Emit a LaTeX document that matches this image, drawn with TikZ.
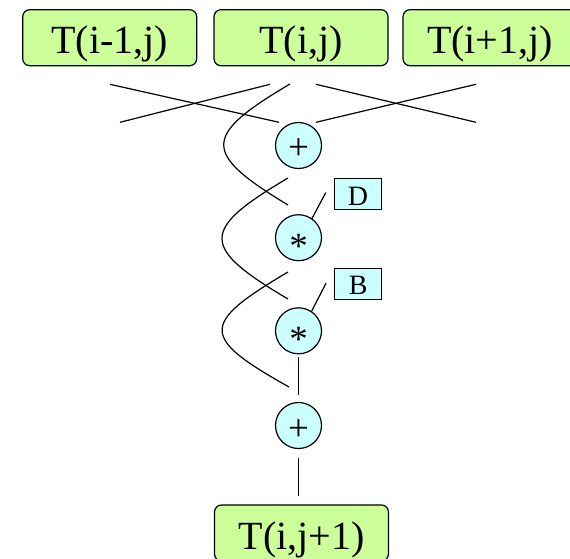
\documentclass[tikz,border=0pt]{standalone}
\usepackage{fontspec}
\setmainfont{Liberation Serif}
\definecolor{boxgreen}{HTML}{CCFF99}
\definecolor{opcyan}{HTML}{CCFFFF}
\begin{document}
\begin{tikzpicture}[x=1pt,y=-1pt,line width=1.2pt,
  tbox/.style={draw,rounded corners=7pt,fill=boxgreen,minimum width=174pt,minimum height=56pt,inner sep=0pt,
    text height=32pt,text depth=0pt,font=\fontsize{40}{44}\selectfont},
  op/.style={draw,circle,fill=opcyan,minimum size=46pt,inner sep=0pt,text depth=0pt,font=\fontsize{37}{40}\selectfont},
  plusop/.style={op,text height=29pt},
  mulop/.style={op,text height=42pt},
  coef/.style={draw,fill=opcyan,minimum width=47pt,minimum height=31pt,inner sep=0pt,
    text height=22.4pt,text depth=0pt,font=\fontsize{28}{30}\selectfont},
  wire/.style={draw,line width=1.2pt}]
\useasboundingbox (0,0) rectangle (570,559);
% data boxes
\node[tbox] (tl) at (109.7,37.7) {T(i-1,j)};
\node[tbox] (tc) at (301,37.7) {T(i,j)};
\node[tbox] (tr) at (490,37.7) {T(i+1,j)};
\node[tbox] (out) at (301.5,533) {T(i,j+1)};
% operators
\node[plusop] (p1) at (298.5,145.5) {+};
\node[mulop] (m1) at (298.5,237.7) {*};
\node[mulop] (m2) at (298.5,330.8) {*};
\node[plusop] (p2) at (298.5,425.5) {+};
% coefficients
\node[coef] (cd) at (358,193.8) {D};
\node[coef] (cb) at (358.3,283.7) {B};
% connector end points
\coordinate (a1) at (110,84.3);  \coordinate (a2) at (279,122.3);
\coordinate (b1) at (120,122.3); \coordinate (b2) at (270,84.3);
\coordinate (c1) at (316,84.3);  \coordinate (c2) at (476,122.3);
\coordinate (d1) at (316,122.3); \coordinate (d2) at (476,84.3);
\coordinate (s1a) at (290,84);   \coordinate (s1b) at (288,205);
\coordinate (s2a) at (288,178);  \coordinate (s2b) at (288,299);
\coordinate (s3a) at (288,272);  \coordinate (s3b) at (289,387);
\coordinate (dl1) at (325.7,192.7); \coordinate (dl2) at (311.7,219);
\coordinate (bl1) at (326,283.3);   \coordinate (bl2) at (311.7,311);
\coordinate (v1) at (298.5,356.5);  \coordinate (v2) at (298.5,395);
\coordinate (w1) at (298.5,457.7);  \coordinate (w2) at (298.5,496);
% crossing lines
\draw[wire] (a1) -- (a2);
\draw[wire] (b1) -- (b2);
\draw[wire] (c1) -- (c2);
\draw[wire] (d1) -- (d2);
% S curves
\draw[wire] (s1a) .. controls (202,136) and (202,153) .. (s1b);
\draw[wire] (s2a) .. controls (200,230) and (200,247) .. (s2b);
\draw[wire] (s3a) .. controls (200,324) and (200,337) .. (s3b);
% coefficient links
\draw[wire] (dl1) -- (dl2);
\draw[wire] (bl1) -- (bl2);
% vertical links
\draw[wire] (v1) -- (v2);
\draw[wire] (w1) -- (w2);
\end{tikzpicture}
\end{document}
